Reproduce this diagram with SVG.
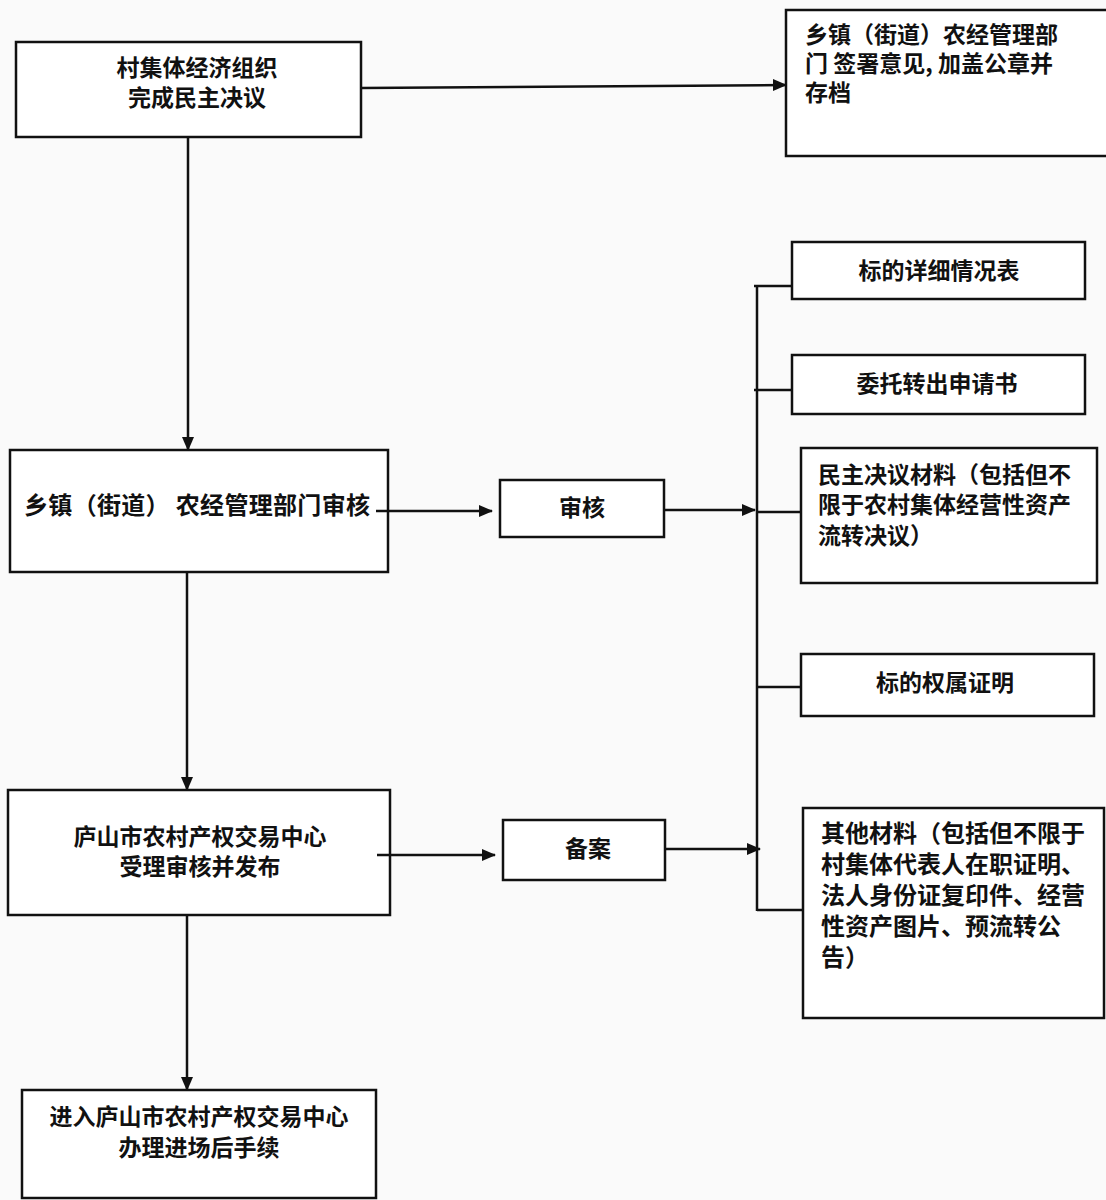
<svg xmlns="http://www.w3.org/2000/svg" width="1106" height="1200" viewBox="0 0 1106 1200">
<defs>
<marker id="ah" markerWidth="14" markerHeight="14" refX="13" refY="7" orient="auto" markerUnits="userSpaceOnUse" viewBox="0 0 14 14">
<path d="M0,1 L14,7 L0,13 z" fill="#111"/>
</marker>
<style>
.box{fill:#fff;stroke:#111;stroke-width:2.5}
.t{font-family:"Noto Sans CJK SC","Noto Sans CJK JP",sans-serif;font-size:23px;font-weight:bold;fill:#111}
.c{text-anchor:middle}
.ln{stroke:#111;stroke-width:2.5;fill:none}
.ar{stroke:#111;stroke-width:2.5;fill:none;marker-end:url(#ah)}
</style>
</defs>
<rect width="1106" height="1200" fill="#fafafa"/>
<g id="n1"><rect class="box" x="16" y="42" width="345" height="95"/>
<text class="t c" x="197" y="76">村集体经济组织</text><text class="t c" x="197" y="106">完成民主决议</text></g>
<g id="n2"><rect class="box" x="786" y="10" width="322" height="146"/>
<text class="t" x="805" y="43">乡镇（街道）农经管理部</text><text class="t" x="805" y="72">门 签署意见, 加盖公章并</text><text class="t" x="805" y="101">存档</text></g>
<g id="n3"><rect class="box" x="10" y="450" width="378" height="122"/>
<text class="t" x="24" y="514" style="font-size:24px" textLength="346" lengthAdjust="spacing">乡镇（街道） 农经管理部门审核</text></g>
<g id="n4"><rect class="box" x="500" y="480" width="164" height="57"/>
<text class="t c" x="582" y="516">审核</text></g>
<g id="n5"><rect class="box" x="8" y="790" width="382" height="125"/>
<text class="t c" x="200" y="845">庐山市农村产权交易中心</text><text class="t c" x="200" y="875">受理审核并发布</text></g>
<g id="n6"><rect class="box" x="503" y="820" width="162" height="60"/>
<text class="t c" x="588" y="857">备案</text></g>
<g id="n7"><rect class="box" x="22" y="1090" width="354" height="108"/>
<text class="t c" x="199" y="1125">进入庐山市农村产权交易中心</text><text class="t c" x="199" y="1156">办理进场后手续</text></g>
<g id="n8"><rect class="box" x="792" y="242" width="293" height="57"/>
<text class="t c" x="939" y="279">标的详细情况表</text></g>
<g id="n9"><rect class="box" x="792" y="355" width="293" height="59"/>
<text class="t c" x="937" y="392">委托转出申请书</text></g>
<g id="n10"><rect class="box" x="801" y="448" width="296" height="135"/>
<text class="t" x="818" y="483">民主决议材料（包括但不</text><text class="t" x="818" y="513">限于农村集体经营性资产</text><text class="t" x="818" y="544">流转决议）</text></g>
<g id="n11"><rect class="box" x="801" y="654" width="293" height="62"/>
<text class="t c" x="945" y="691">标的权属证明</text></g>
<g id="n12"><rect class="box" x="803" y="808" width="301" height="210"/>
<text class="t" x="821" y="842" style="font-size:24px">其他材料（包括但不限于</text><text class="t" x="821" y="873" style="font-size:24px">村集体代表人在职证明、</text><text class="t" x="821" y="904" style="font-size:24px">法人身份证复印件、经营</text><text class="t" x="821" y="935" style="font-size:24px">性资产图片、预流转公</text><text class="t" x="821" y="966" style="font-size:24px">告）</text></g>
<g id="connectors">
<line class="ar" x1="361" y1="88" x2="786" y2="85"/>
<line class="ar" x1="188" y1="137" x2="188" y2="450"/>
<line class="ar" x1="376" y1="511" x2="492" y2="511"/>
<line class="ar" x1="664" y1="510" x2="755" y2="510"/>
<line class="ar" x1="187" y1="572" x2="187" y2="790"/>
<line class="ar" x1="377" y1="855" x2="495" y2="855"/>
<line class="ar" x1="665" y1="849" x2="760" y2="849"/>
<line class="ar" x1="187" y1="915" x2="187" y2="1090"/>
<line class="ln" x1="757" y1="286" x2="757" y2="911"/>
<line class="ln" x1="754" y1="286" x2="792" y2="286"/>
<line class="ln" x1="754" y1="390" x2="792" y2="390"/>
<line class="ln" x1="757" y1="512" x2="801" y2="512"/>
<line class="ln" x1="757" y1="687" x2="801" y2="687"/>
<line class="ln" x1="757" y1="910" x2="803" y2="910"/>
</g>
</svg>
